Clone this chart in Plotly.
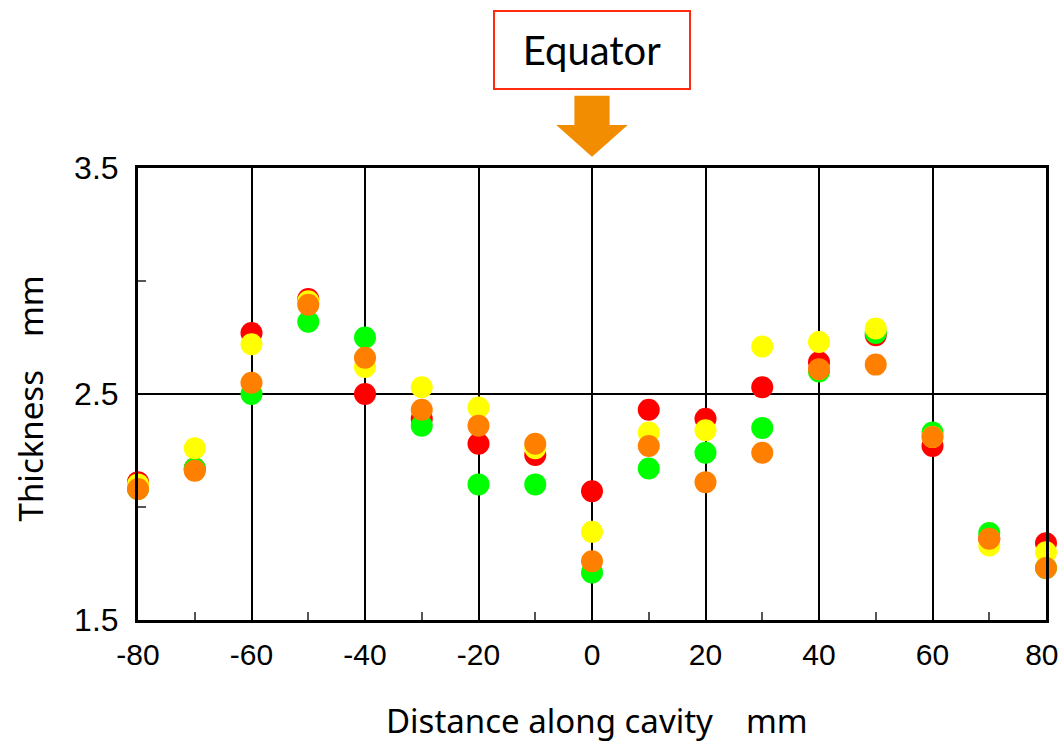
import plotly.graph_objects as go

distance = [-80, -70, -60, -50, -40, -30, -20, -10, 0, 10, 20, 30, 40, 50, 60, 70, 80]

thick_red = [2.11, 2.17, 2.77, 2.92, 2.50, 2.39, 2.28, 2.23, 2.07, 2.43, 2.39, 2.53, 2.64, 2.76, 2.27, 1.86, 1.84]
thick_green = [2.08, 2.17, 2.50, 2.82, 2.75, 2.36, 2.10, 2.10, 1.71, 2.17, 2.24, 2.35, 2.60, 2.77, 2.33, 1.885, 1.73]
thick_yellow = [2.10, 2.26, 2.72, 2.91, 2.62, 2.53, 2.44, 2.26, 1.89, 2.33, 2.34, 2.71, 2.73, 2.79, 2.31, 1.83, 1.80]
thick_orange = [2.08, 2.16, 2.55, 2.895, 2.66, 2.43, 2.36, 2.28, 1.76, 2.27, 2.11, 2.24, 2.61, 2.63, 2.31, 1.86, 1.73]

x_ticks = [-80, -60, -40, -20, 0, 20, 40, 60, 80]
x_ticklabels = ["-80", "-60", "-40", "-20", "0", "20", "40", "60", "80\u00a0"]
y_ticks = [1.5, 2.5, 3.5]
y_ticklabels = ["1.5", "2.5", "3.5"]

series = [
    ("red", thick_red, "#FF0000"),
    ("green", thick_green, "#00FF00"),
    ("yellow", thick_yellow, "#FFFF00"),
    ("orange", thick_orange, "#FF8000"),
]

fig = go.Figure()
for name, vals, col in series:
    fig.add_trace(go.Scatter(
        x=distance, y=vals, mode="markers", name=name,
        marker=dict(size=22, color=col, line=dict(width=0)),
        cliponaxis=False, showlegend=False,
    ))

x_tick_font = dict(family="Liberation Sans, Arial, sans-serif", size=30, color="black")
y_tick_font = dict(family="Liberation Sans, Arial, sans-serif", size=32, color="black")
title_font = dict(family="Noto Sans, sans-serif", size=33, color="black")

fig.update_layout(
    width=1061, height=742,
    margin=dict(l=138, r=15, t=168, b=122, autoexpand=False),
    paper_bgcolor="white", plot_bgcolor="white",
    xaxis=dict(
        range=[-80, 80], tickmode="array", tickvals=x_ticks, ticktext=x_ticklabels,
        showgrid=True, gridcolor="black", gridwidth=1.5,
        showline=True, linecolor="black", linewidth=3, mirror=True,
        ticks="inside", ticklen=8, tickcolor="black", tickwidth=1.5,
        minor=dict(dtick=10, tick0=-80, ticks="inside", ticklen=8, tickcolor="#555", showgrid=False),
        tickfont=x_tick_font, zeroline=False, ticklabelstandoff=6,
        ticklabeloverflow="allow", automargin=False,
    ),
    yaxis=dict(
        range=[1.5, 3.5], tickmode="array", tickvals=y_ticks, ticktext=y_ticklabels,
        showgrid=True, gridcolor="black", gridwidth=1.5,
        showline=True, linecolor="black", linewidth=3, mirror=True,
        ticks="inside", ticklen=8, tickcolor="black", tickwidth=1.5,
        minor=dict(dtick=0.5, tick0=1.5, ticks="inside", ticklen=8, tickcolor="#555", showgrid=False),
        tickfont=y_tick_font, zeroline=False, ticklabelstandoff=10, automargin=False,
    ),
)

fig.add_annotation(
    text="Distance along cavity\u3000mm", xref="paper", yref="paper",
    x=0.505, y=-0.222, xanchor="center", yanchor="middle", showarrow=False,
    font=title_font,
)
fig.add_annotation(
    text="Thickness\u3000mm", xref="paper", yref="paper",
    x=-0.118, y=0.49, xanchor="center", yanchor="middle", showarrow=False,
    textangle=-90, font=title_font,
)
fig.add_annotation(
    text="Equator", xref="x", yref="paper", x=0, y=1.262,
    xanchor="center", yanchor="middle", showarrow=False,
    width=192, height=74, bgcolor="white", bordercolor="#FF2A10", borderwidth=2,
    font=dict(family="Lato, Open Sans, sans-serif", size=40, color="black"),
)
fig.add_shape(
    type="path", xref="x", yref="paper",
    path="M -3.1 1.160 L 3.1 1.160 L 3.1 1.095 L 6.3 1.095 L 0 1.025 L -6.3 1.095 L -3.1 1.095 Z",
    fillcolor="#F28C00", line=dict(width=0), layer="above",
)

fig.write_html("out.html", config={"displayModeBar": False},
               post_script="document.body.style.margin='0';document.body.style.overflow='hidden';document.documentElement.style.overflow='hidden';")
